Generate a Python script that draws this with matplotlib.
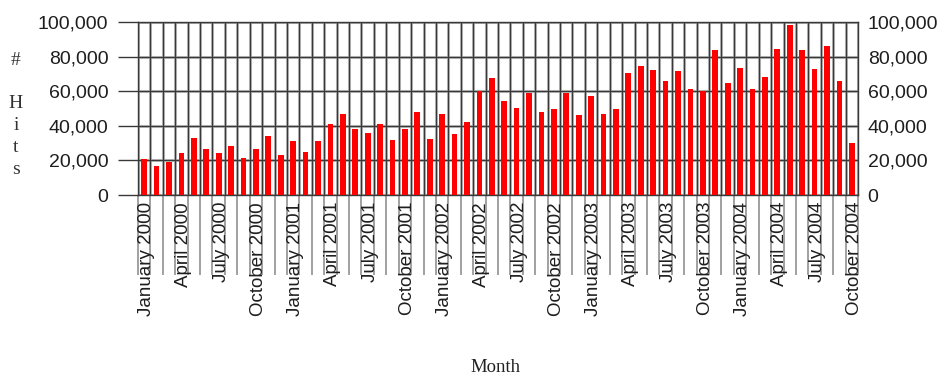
import numpy as np
import matplotlib.pyplot as plt

# monthly hits, January 2000 .. October 2004
hits = [21000, 17000, 19000, 24000, 33000, 26500, 24000, 28500, 21500, 26500, 34000, 23000,
        31000, 25000, 31000, 41000, 47000, 38000, 36000, 41000, 32000, 38000, 48000, 32500,
        47000, 35000, 42000, 60000, 67500, 54500, 50500, 59000, 48000, 49500, 59000, 46000,
        57000, 47000, 49500, 70500, 74500, 72500, 66000, 71500, 61000, 60000, 84000, 64500,
        73500, 61500, 68000, 84500, 98000, 84000, 73000, 86000, 66000, 30000]

month_labels = ["January 2000", "April 2000", "July 2000", "October 2000",
                "January 2001", "April 2001", "July 2001", "October 2001",
                "January 2002", "April 2002", "July 2002", "October 2002",
                "January 2003", "April 2003", "July 2003", "October 2003",
                "January 2004", "April 2004", "July 2004", "October 2004"]

yticks = [0, 20000, 40000, 60000, 80000, 100000]
ylabel_letters = ["#", "H", "i", "t", "s"]

dark = '#383838'
halo = '#c8c8c8'

fig = plt.figure(figsize=(9.41, 3.79), dpi=100)
ax = fig.add_axes([138/941, 184/379, 720/941, 173/379])

n = len(hits)
x = np.arange(n)
bounds = np.arange(n + 1) - 0.5

ax.bar(x, hits, width=0.46, color='#ff0000', zorder=3)
ax.set_xlim(-0.5, n - 0.5)
ax.set_ylim(0, 100000)

# grid: soft grey halo under a dark core line
ax.vlines(bounds, 0, 100000, colors=halo, lw=2.2, zorder=1)
ax.vlines(bounds, 0, 100000, colors=dark, lw=1.0, zorder=2)
ax.hlines(yticks, -0.5, n - 0.5, colors=halo, lw=2.2, zorder=1)
ax.hlines(yticks, -0.5, n - 0.5, colors=dark, lw=1.0, zorder=2)

# the column lines carry on down through the month labels
ax.vlines(bounds, -0.46, 0, transform=ax.get_xaxis_transform(),
          colors='#9a9a9a', lw=1.3, clip_on=False, zorder=0)

for s in ax.spines.values():
    s.set_color(dark)
    s.set_linewidth(1.0)

ax.set_yticks(yticks)
ax.set_yticklabels([f"{v:,}" for v in yticks], family='Liberation Sans', fontsize=14, color='#1e1e1e')
ax.tick_params(axis='y', direction='out', length=14.4, width=1.0, color=dark, pad=7)

ax.set_xticks(x[::3] + 0.2)
ax.set_xticklabels(month_labels, rotation=90, family='Liberation Sans', fontsize=13.5,
                   color='#1e1e1e', va='top', ha='center')
ax.tick_params(axis='x', length=0, pad=5)

ax2 = ax.twinx()
ax2.set_ylim(0, 100000)
ax2.set_yticks(yticks)
ax2.set_yticklabels([f"{v:,}" for v in yticks], family='Liberation Sans', fontsize=14, color='#1e1e1e')
ax2.tick_params(axis='y', length=0, pad=7)
for s in ax2.spines.values():
    s.set_visible(False)

# stacked "# Hits" axis title
ybase = [65, 108, 130, 152, 174]
for ch, yb in zip(ylabel_letters, ybase):
    fig.text(16/941, 1 - yb/379, ch, ha='center', va='baseline',
             family='Liberation Serif', fontsize=14, color='#333333')

fig.text(495/941, 1 - 368/379, "Month", ha='center', va='center',
         family='Liberation Serif', fontsize=13.5, color='#222222')

fig.savefig('out.png', dpi=100)
